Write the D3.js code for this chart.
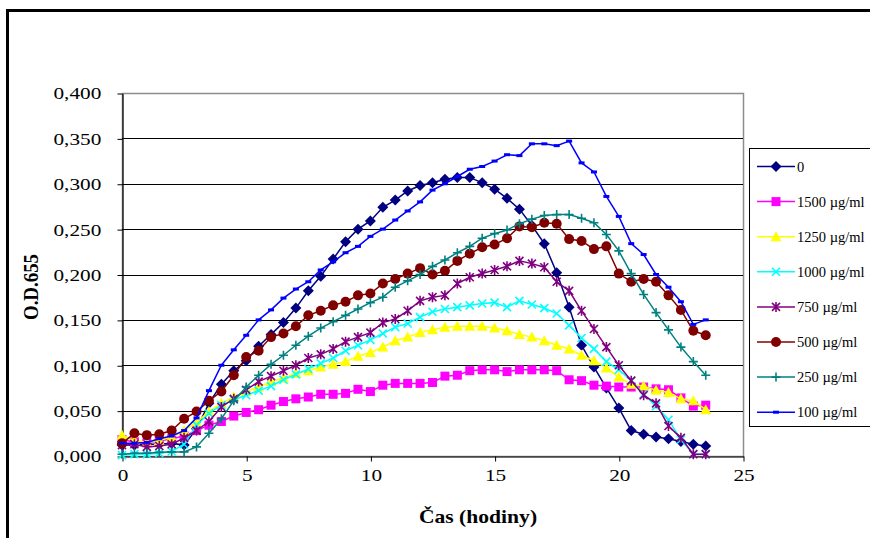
<!DOCTYPE html>
<html>
<head>
<meta charset="utf-8">
<script src="https://cdn.jsdelivr.net/npm/d3@7/dist/d3.min.js"></script>
<style>
  body { margin: 0; background: #fff; }
  svg { display: block; font-family: "Liberation Serif", "Times New Roman", serif; }
</style>
</head>
<body>
<div id="chart"></div>
<script>
// time in hours, one reading every half hour
var hours = d3.range(48).map(function(i){ return i / 2; });

var seriesNames = ["0", "1500 \u00b5g/ml", "1250 \u00b5g/ml", "1000 \u00b5g/ml", "750 \u00b5g/ml", "500 \u00b5g/ml", "250 \u00b5g/ml", "100 \u00b5g/ml"];
var seriesColors = ["#000080", "#ff00ff", "#ffff00", "#00ffff", "#800080", "#800000", "#008080", "#0000ff"];
var seriesMarkers = ["diamond", "square", "triangle", "x", "asterisk", "circle", "plus", "dash"];

var s0 = [0.012,0.012,0.013,0.013,0.014,0.012,0.030,0.058,0.079,0.094,0.105,0.121,0.134,0.147,0.163,0.182,0.198,0.217,0.236,0.250,0.259,0.274,0.282,0.292,0.298,0.301,0.305,0.307,0.307,0.301,0.294,0.284,0.272,0.254,0.234,0.202,0.164,0.122,0.098,0.075,0.053,0.028,0.024,0.021,0.019,0.016,0.013,0.011];
var s1500 = [0.018,0.0155,0.0145,0.0165,0.019,0.022,0.028,0.034,0.038,0.044,0.048,0.051,0.056,0.060,0.063,0.065,0.068,0.068,0.069,0.0735,0.071,0.078,0.080,0.080,0.080,0.081,0.088,0.089,0.094,0.095,0.095,0.093,0.095,0.095,0.095,0.094,0.084,0.083,0.078,0.077,0.076,0.076,0.076,0.074,0.073,0.064,0.055,0.056];
var s1250 = [0.023,0.017,0.015,0.017,0.021,0.028,0.037,0.049,0.058,0.065,0.071,0.076,0.082,0.086,0.091,0.094,0.098,0.101,0.104,0.110,0.114,0.120,0.127,0.131,0.136,0.139,0.142,0.143,0.143,0.143,0.141,0.138,0.134,0.131,0.127,0.122,0.118,0.111,0.105,0.097,0.087,0.079,0.077,0.0725,0.070,0.063,0.061,0.051];
var s1000 = [0.001,0.002,0.002,0.003,0.005,0.013,0.034,0.047,0.056,0.062,0.067,0.072,0.077,0.084,0.090,0.096,0.102,0.108,0.116,0.122,0.128,0.135,0.142,0.146,0.153,0.159,0.162,0.164,0.166,0.168,0.169,0.164,0.171,0.167,0.163,0.157,0.144,0.130,0.118,0.104,0.095,0.083,0.068,0.055,0.040,0.018,0.002,0.002];
var s750 = [0.012,0.013,0.010,0.011,0.013,0.020,0.028,0.038,0.054,0.063,0.073,0.082,0.088,0.094,0.100,0.108,0.112,0.118,0.126,0.131,0.136,0.147,0.151,0.160,0.171,0.175,0.177,0.190,0.197,0.201,0.205,0.209,0.215,0.212,0.208,0.192,0.182,0.160,0.140,0.120,0.100,0.083,0.067,0.058,0.033,0.020,0.002,0.002];
var s500 = [0.014,0.025,0.023,0.024,0.028,0.041,0.049,0.061,0.071,0.089,0.109,0.116,0.131,0.135,0.143,0.155,0.160,0.166,0.170,0.177,0.179,0.190,0.195,0.201,0.207,0.200,0.204,0.215,0.223,0.230,0.233,0.240,0.253,0.252,0.257,0.256,0.239,0.237,0.228,0.231,0.201,0.192,0.195,0.192,0.177,0.161,0.138,0.133];
var s250 = [0.002,0.003,0.003,0.004,0.0045,0.0045,0.010,0.025,0.041,0.061,0.076,0.089,0.101,0.111,0.122,0.132,0.141,0.148,0.155,0.162,0.169,0.175,0.186,0.193,0.200,0.209,0.216,0.224,0.231,0.240,0.245,0.249,0.256,0.261,0.265,0.266,0.266,0.262,0.257,0.244,0.226,0.201,0.178,0.158,0.139,0.120,0.104,0.089];
var s100 = [0.014,0.014,0.015,0.019,0.022,0.028,0.042,0.072,0.100,0.117,0.133,0.150,0.161,0.174,0.184,0.192,0.205,0.214,0.224,0.231,0.242,0.250,0.260,0.270,0.280,0.293,0.300,0.308,0.316,0.319,0.325,0.332,0.331,0.344,0.344,0.342,0.347,0.323,0.313,0.286,0.264,0.234,0.222,0.200,0.186,0.170,0.145,0.150];

var seriesValues = [s0, s1500, s1250, s1000, s750, s500, s250, s100];

var xTicks = [0, 5, 10, 15, 20, 25];
var yTicks = [0, 0.05, 0.1, 0.15, 0.2, 0.25, 0.3, 0.35, 0.4];

var width = 870, height = 538;
var plotLeft = 122, plotRight = 743, plotTop = 93, plotBottom = 456;

var svg = d3.select("#chart").append("svg")
    .attr("width", width)
    .attr("height", height);

//outer frame, runs off the right and bottom edge
svg.append("rect")
    .attr("x", 7.5).attr("y", 10.5)
    .attr("width", 900).attr("height", 600)
    .style("fill", "white")
    .style("stroke", "black")
    .style("stroke-width", 3);

var x = d3.scaleLinear().domain([0, 25]).range([plotLeft, plotRight]);
var y = d3.scaleLinear().domain([0, 0.4]).range([plotBottom, plotTop]);

var fmt = d3.formatLocale({decimal: ",", thousands: " ", grouping: [3], currency: ["", ""]}).format(".3f");

//plot border (grey top and right)
svg.append("rect")
    .attr("x", plotLeft + 0.5).attr("y", plotTop + 0.5)
    .attr("width", plotRight - plotLeft).attr("height", plotBottom - plotTop)
    .style("fill", "white")
    .style("stroke", "#8c8c8c")
    .style("stroke-width", 1.5);

//gridlines
svg.append("g").selectAll("line")
    .data(yTicks.filter(function(d){ return d > 0 && d < 0.4; }))
    .enter().append("line")
    .attr("x1", plotLeft).attr("x2", plotRight)
    .attr("y1", function(d){ return Math.round(y(d)) + 0.5; })
    .attr("y2", function(d){ return Math.round(y(d)) + 0.5; })
    .style("stroke", "#000")
    .style("stroke-width", 1);

//axes
var yAxis = svg.append("g")
    .attr("transform", "translate(" + (plotLeft + 0.5) + ",0.5)")
    .call(d3.axisLeft(y).tickValues(yTicks).tickFormat(fmt).tickSize(5).tickSizeOuter(0));

var xAxis = svg.append("g")
    .attr("transform", "translate(0.5," + (plotBottom + 0.5) + ")")
    .call(d3.axisBottom(x).tickValues(xTicks).tickFormat(d3.format("d")).tickSize(5).tickSizeOuter(0));

[yAxis, xAxis].forEach(function(a){
    a.select(".domain").style("stroke", "#000").style("stroke-width", 1.2);
    a.selectAll(".tick line").style("stroke", "#000");
    a.selectAll("text")
        .style("font-family", "'Liberation Serif', serif")
        .style("font-size", "17px")
        .style("fill", "#000");
});
yAxis.selectAll("text").attr("x", -17).attr("transform", "scale(1.25,1)");
xAxis.selectAll("text").attr("y", 12).attr("transform", "scale(1.25,1)");

//axis titles
svg.append("text")
    .attr("transform", "translate(478,523) scale(1.2,1)")
    .style("text-anchor", "middle")
    .style("font-weight", "bold")
    .style("font-size", "18px")
    .text("\u010cas (hodiny)");

svg.append("text")
    .attr("transform", "translate(38,287) rotate(-90) scale(1.05,1.2)")
    .style("text-anchor", "middle")
    .style("font-weight", "bold")
    .style("font-size", "18px")
    .text("O.D.655");

//marker shapes
function drawMarker(sel, type, color){
    if (type == "diamond"){
        sel.append("path").attr("d", "M0,-5.5L5.5,0L0,5.5L-5.5,0Z").style("fill", color);
    } else if (type == "square"){
        sel.append("rect").attr("x", -4.5).attr("y", -4.5).attr("width", 9).attr("height", 9).style("fill", color);
    } else if (type == "triangle"){
        sel.append("path").attr("d", "M0,-5.5L5.5,4.5L-5.5,4.5Z").style("fill", color);
    } else if (type == "circle"){
        sel.append("circle").attr("r", 5).style("fill", color);
    } else if (type == "x"){
        sel.append("path").attr("d", "M-4,-4L4,4M-4,4L4,-4").style("stroke", color).style("stroke-width", 1.6).style("fill", "none");
    } else if (type == "plus"){
        sel.append("path").attr("d", "M-4.5,0L4.5,0M0,-4.5L0,4.5").style("stroke", color).style("stroke-width", 1.6).style("fill", "none");
    } else if (type == "asterisk"){
        sel.append("path").attr("d", "M-4,-4L4,4M-4,4L4,-4M0,-5L0,5").style("stroke", color).style("stroke-width", 1.6).style("fill", "none");
    } else if (type == "dash"){
        sel.append("rect").attr("x", -3).attr("y", -1.5).attr("width", 6).attr("height", 3).style("fill", color);
    }
}

var line = d3.line()
    .x(function(d){ return x(d[0]); })
    .y(function(d){ return y(d[1]); });

var seriesGroups = svg.append("g").selectAll("g")
    .data(seriesValues)
    .enter().append("g");

seriesGroups.append("path")
    .attr("d", function(d){ return line(d.map(function(v, i){ return [hours[i], v]; })); })
    .style("fill", "none")
    .style("stroke", function(d, i){ return seriesColors[i]; })
    .style("stroke-width", 1.5);

seriesGroups.each(function(d, i){
    var g = d3.select(this);
    d.forEach(function(v, j){
        var m = g.append("g").attr("transform", "translate(" + x(hours[j]) + "," + y(v) + ")");
        drawMarker(m, seriesMarkers[i], seriesColors[i]);
    });
});

//legend
var legend = svg.append("g");
legend.append("rect")
    .attr("x", 749.5).attr("y", 148.5)
    .attr("width", 200).attr("height", 278)
    .style("fill", "white")
    .style("stroke", "#000")
    .style("stroke-width", 1);

var legendItems = legend.selectAll("g.item")
    .data(seriesNames)
    .enter().append("g")
    .attr("class", "item")
    .attr("transform", function(d, i){ return "translate(0," + (166.5 + i * 35.1) + ")"; });

legendItems.append("line")
    .attr("x1", 757).attr("x2", 795)
    .attr("y1", 0).attr("y2", 0)
    .style("stroke", function(d, i){ return seriesColors[i]; })
    .style("stroke-width", 1.5);

legendItems.each(function(d, i){
    var m = d3.select(this).append("g").attr("transform", "translate(776,0)");
    drawMarker(m, seriesMarkers[i], seriesColors[i]);
});

legendItems.append("text")
    .attr("x", 797).attr("y", 5)
    .style("font-size", "14.5px")
    .text(function(d){ return d; });
</script>
</body>
</html>
